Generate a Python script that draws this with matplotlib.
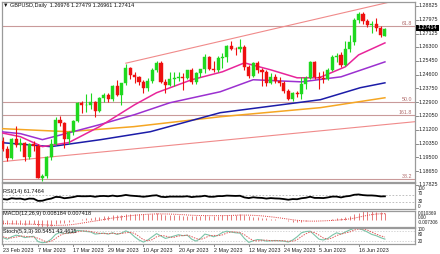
import numpy as np
import pandas as pd
import matplotlib
matplotlib.use("Agg")
import matplotlib.pyplot as plt
from matplotlib.patches import Rectangle

plt.rcParams['font.family'] = ['Liberation Sans', 'DejaVu Sans']

# ---------------- data ----------------
dates = pd.bdate_range('2023-02-23', '2023-06-26')

opens = [1.2050, 1.2000, 1.1945, 1.2065, 1.2025, 1.2040, 1.1950, 1.2035, 1.2020, 1.1825,
         1.1835, 1.1950, 1.2030, 1.2180, 1.2160, 1.2060, 1.2105, 1.2175, 1.2285, 1.2270,
         1.2275, 1.2290, 1.2235, 1.2315, 1.2335, 1.2310, 1.2390, 1.2335, 1.2405, 1.2500,
         1.2460, 1.2445, 1.2415, 1.2375, 1.2420, 1.2490, 1.2530, 1.2415, 1.2395, 1.2435,
         1.2440, 1.2445, 1.2440, 1.2485, 1.2415, 1.2470, 1.2495, 1.2570, 1.2495, 1.2490,
         1.2565, 1.2570, 1.2635, 1.2620, 1.2615, 1.2630, 1.2505, 1.2450, 1.2530, 1.2490,
         1.2475, 1.2410, 1.2445, 1.2420, 1.2410, 1.2360, 1.2310, 1.2345, 1.2340, 1.2400,
         1.2440, 1.2535, 1.2445, 1.2440, 1.2435, 1.2490, 1.2570, 1.2580, 1.2520, 1.2620,
         1.2660, 1.2795, 1.2830, 1.2790, 1.2765, 1.2770, 1.2745, 1.26976]
highs = [1.2075, 1.2020, 1.2070, 1.2145, 1.2070, 1.2045, 1.2040, 1.2050, 1.2035, 1.1850,
         1.1960, 1.2060, 1.2200, 1.2205, 1.2170, 1.2115, 1.2180, 1.2290, 1.2300, 1.2340,
         1.2345, 1.2300, 1.2320, 1.2345, 1.2345, 1.2395, 1.2425, 1.2410, 1.2525, 1.2505,
         1.2475, 1.2450, 1.2425, 1.2440, 1.2500, 1.2545, 1.2545, 1.2430, 1.2475, 1.2475,
         1.2475, 1.2470, 1.2490, 1.2500, 1.2475, 1.2495, 1.2585, 1.2575, 1.2545, 1.2575,
         1.2590, 1.2640, 1.2668, 1.2630, 1.2680, 1.2640, 1.2520, 1.2535, 1.2545, 1.2500,
         1.2485, 1.2470, 1.2465, 1.2445, 1.2420, 1.2370, 1.2355, 1.2360, 1.2445, 1.2450,
         1.2545, 1.2545, 1.2475, 1.2480, 1.2500, 1.2580, 1.2595, 1.2600, 1.2665, 1.2705,
         1.2810, 1.2848, 1.2845, 1.2800, 1.2790, 1.2810, 1.2760, 1.27479]
lows = [1.1990, 1.1925, 1.1940, 1.2015, 1.1990, 1.1925, 1.1940, 1.1990, 1.1820, 1.1803,
        1.1825, 1.1935, 1.2025, 1.2140, 1.2010, 1.2035, 1.2090, 1.2170, 1.2225, 1.2230,
        1.2250, 1.2200, 1.2230, 1.2290, 1.2290, 1.2300, 1.2330, 1.2275, 1.2395, 1.2435,
        1.2405, 1.2395, 1.2345, 1.2360, 1.2410, 1.2475, 1.2405, 1.2345, 1.2390, 1.2390,
        1.2420, 1.2365, 1.2430, 1.2400, 1.2400, 1.2445, 1.2470, 1.2485, 1.2475, 1.2475,
        1.2500, 1.2540, 1.2610, 1.2580, 1.2600, 1.2490, 1.2440, 1.2445, 1.2470, 1.2390,
        1.2390, 1.2400, 1.2410, 1.2390, 1.2345, 1.2305, 1.2300, 1.2320, 1.2310, 1.2370,
        1.2430, 1.2435, 1.2370, 1.2405, 1.2425, 1.2480, 1.2540, 1.2505, 1.2510, 1.2600,
        1.2645, 1.2780, 1.2770, 1.2750, 1.2715, 1.2730, 1.2690, 1.26961]
closes = [1.2000, 1.1945, 1.2065, 1.2025, 1.2040, 1.1950, 1.2035, 1.2020, 1.1825, 1.1835,
          1.1950, 1.2030, 1.2180, 1.2160, 1.2060, 1.2105, 1.2175, 1.2285, 1.2270, 1.2275,
          1.2290, 1.2235, 1.2315, 1.2335, 1.2310, 1.2390, 1.2335, 1.2405, 1.2500, 1.2460,
          1.2445, 1.2415, 1.2375, 1.2420, 1.2490, 1.2530, 1.2415, 1.2395, 1.2435, 1.2440,
          1.2445, 1.2440, 1.2485, 1.2415, 1.2470, 1.2495, 1.2570, 1.2495, 1.2490, 1.2565,
          1.2570, 1.2635, 1.2620, 1.2615, 1.2630, 1.2505, 1.2450, 1.2530, 1.2490, 1.2475,
          1.2410, 1.2445, 1.2420, 1.2410, 1.2360, 1.2310, 1.2345, 1.2340, 1.2400, 1.2440,
          1.2535, 1.2445, 1.2440, 1.2435, 1.2490, 1.2570, 1.2575, 1.2520, 1.2620, 1.2660,
          1.2795, 1.2830, 1.2790, 1.2765, 1.2770, 1.2745, 1.2705, 1.27414]

# moving averages (bar index, price)
ma_magenta_idx = [-0.5, 4, 9, 15, 22, 30, 35, 43, 50, 55, 61, 67, 72, 78, 81, 87]
ma_magenta = [1.2102, 1.2077, 1.2016, 1.2041, 1.2139, 1.2274, 1.2348, 1.2428, 1.2477,
              1.2532, 1.2489, 1.2440, 1.2440, 1.2508, 1.2581, 1.2655]
ma_purple_idx = [-0.5, 4, 9, 16, 22, 30, 38, 49.5, 57, 68, 77, 87]
ma_purple = [1.2108, 1.2096, 1.2059, 1.2108, 1.2151, 1.2213, 1.2286, 1.2354, 1.2428,
             1.2415, 1.2446, 1.2538]
ma_blue_idx = [-0.5, 10.9, 22.3, 33.6, 49.5, 72.3, 81.4, 87]
ma_blue = [1.2041, 1.2016, 1.2059, 1.2108, 1.2225, 1.2305, 1.2379, 1.2409]
ma_orange_idx = [-0.5, 14.8, 29.8, 49.5, 72.3, 87]
ma_orange = [1.2127, 1.2108, 1.2139, 1.2200, 1.2256, 1.2317]

# trend / channel lines (anchor bar index, price)
upper_idx = [28, 54]
upper_px = [1.2530, 1.2693]
lower_idx = [0, 60]
lower_px = [1.1924, 1.2081]

fib_levels = [1.2760, 1.2293, 1.2210, 1.1818]
fib_labels = ['61.8', '50.0', '161.8', '38.2']

price_ticks = [1.28825, 1.27975, 1.27125, 1.26300, 1.25450, 1.24600, 1.23750,
               1.22900, 1.22050, 1.21200, 1.20350, 1.19500, 1.18650, 1.17825]
price_tick_labels = ['1.28825', '1.27975', '1.27125', '1.26300', '1.25450', '1.24600',
                     '1.23750', '1.22900', '1.22050', '1.21200', '1.20350', '1.19500',
                     '1.18650', '1.17825']

rsi = [45, 42, 50, 47, 48, 42, 48, 47, 34, 35, 43, 48, 58, 57, 50, 53, 57, 63, 62, 62,
       63, 59, 63, 64, 62, 66, 62, 65, 70, 66, 64, 62, 59, 62, 66, 68, 59, 57, 60, 60,
       60, 60, 62, 57, 60, 61, 65, 59, 59, 63, 63, 66, 65, 64, 65, 55, 51, 56, 53, 52,
       48, 51, 49, 48, 45, 41, 45, 44, 50, 53, 59, 52, 52, 51, 55, 60, 60, 55, 61, 64,
       71, 73, 69, 67, 67, 65, 61, 61.7464]

macd = [-0.0040, -0.0045, -0.0042, -0.0043, -0.0042, -0.0048, -0.0045, -0.0044, -0.0060, -0.0070,
        -0.0073, -0.0065, -0.0045, -0.0032, -0.0028, -0.0020, -0.0010, 0.0005, 0.0015, 0.0024,
        0.0032, 0.0034, 0.0040, 0.0046, 0.0049, 0.0055, 0.0056, 0.0060, 0.0070, 0.0073,
        0.0074, 0.0073, 0.0069, 0.0069, 0.0073, 0.0079, 0.0072, 0.0064, 0.0061, 0.0058,
        0.0056, 0.0053, 0.0054, 0.0049, 0.0049, 0.0050, 0.0056, 0.0053, 0.0050, 0.0053,
        0.0056, 0.0062, 0.0064, 0.0065, 0.0066, 0.0057, 0.0046, 0.0043, 0.0037, 0.0031,
        0.0022, 0.0018, 0.0012, 0.0007, -0.0001, -0.0011, -0.0015, -0.0018, -0.0015, -0.0010,
        0.0001, 0.0002, 0.0002, 0.0002, 0.0007, 0.0017, 0.0024, 0.0025, 0.0035, 0.0046,
        0.0067, 0.0086, 0.0099, 0.0104, 0.0101, 0.0096, 0.0088, 0.008184]
macd_signal = [-0.0035, -0.0037, -0.0038, -0.0039, -0.0040, -0.0041, -0.0042, -0.0043, -0.0045, -0.0048,
               -0.0051, -0.0054, -0.0055, -0.0054, -0.0053, -0.0050, -0.0045, -0.0038, -0.0030, -0.0022,
               -0.0014, -0.0007, 0.0001, 0.0010, 0.0018, 0.0026, 0.0033, 0.0039, 0.0046, 0.0052,
               0.0057, 0.0061, 0.0065, 0.0068, 0.0070, 0.0072, 0.0072, 0.0071, 0.0070, 0.0068,
               0.0066, 0.0063, 0.0060, 0.0057, 0.0055, 0.0054, 0.0053, 0.0053, 0.0053, 0.0052,
               0.0053, 0.0054, 0.0055, 0.0057, 0.0059, 0.0059, 0.0058, 0.0056, 0.0054, 0.0050,
               0.0045, 0.0040, 0.0034, 0.0028, 0.0021, 0.0014, 0.0007, 0.0001, -0.0004, -0.0007,
               -0.0008, -0.0008, -0.0007, -0.0005, -0.0003, 0.0000, 0.0003, 0.0007, 0.0011, 0.0017,
               0.0025, 0.0035, 0.0046, 0.0056, 0.0064, 0.0070, 0.0073, 0.007418]

stoch_k = [40, 30, 45, 55, 50, 40, 45, 48, 15, 8, 12, 30, 60, 72, 65, 68, 75, 85, 82, 78,
           75, 62, 65, 68, 62, 70, 60, 68, 82, 70, 45, 25, 12, 25, 45, 65, 50, 35, 42, 50,
           58, 52, 55, 30, 18, 35, 62, 55, 45, 55, 72, 80, 75, 70, 68, 35, 10, 20, 28, 25,
           18, 20, 22, 20, 18, 12, 25, 45, 70, 78, 80, 55, 30, 25, 35, 55, 70, 62, 75, 88,
           98, 97, 88, 75, 60, 52, 40, 30.5451]
stoch_d = [45, 38, 38, 43, 50, 48, 45, 44, 36, 24, 12, 17, 34, 54, 66, 68, 69, 76, 81, 82,
           78, 72, 67, 65, 65, 67, 64, 66, 70, 73, 66, 47, 27, 21, 27, 45, 53, 50, 42, 42,
           50, 53, 55, 46, 34, 28, 38, 51, 54, 52, 57, 69, 76, 75, 71, 58, 38, 22, 19, 24,
           24, 21, 20, 21, 20, 17, 18, 27, 47, 64, 76, 71, 55, 37, 30, 38, 53, 62, 69, 75,
           87, 94, 94, 87, 74, 62, 51, 43.4635]

date_tick_labels = ['23 Feb 2023', '7 Mar 2023', '17 Mar 2023', '29 Mar 2023', '10 Apr 2023',
                    '20 Apr 2023', '2 May 2023', '12 May 2023', '24 May 2023', '5 Jun 2023',
                    '16 Jun 2023']

# ---------------- figure ----------------
W, H = 440, 254
fig = plt.figure(figsize=(W / 100, H / 100), dpi=100)
fig.patch.set_facecolor('white')


def ax_px(x0, y0, x1, y1):
    a = fig.add_axes([x0 / W, 1 - y1 / H, (x1 - x0) / W, (y1 - y0) / H])
    a.set_xticks([])
    a.set_yticks([])
    for s in a.spines.values():
        s.set_color('#9a9a9a')
        s.set_linewidth(0.9)
    return a


XL = (-0.2, 93.85)
ax = ax_px(2, 2, 415, 182)
ax_rsi = ax_px(2, 183, 415, 209)
ax_macd = ax_px(2, 211, 415, 227)
ax_st = ax_px(2, 228, 415, 244)
for a in (ax, ax_rsi, ax_macd, ax_st):
    a.set_xlim(*XL)

n = len(closes)
idx = np.arange(n)
o = np.array(opens); h = np.array(highs); l = np.array(lows); c = np.array(closes)

ax.set_ylim(1.1798, 1.2907)

# fib levels
for lv, lb in zip(fib_levels, fib_labels):
    ax.axhline(lv, color='#c99a9a', lw=0.8, zorder=1)
    ax.text(0.993, lv, lb, transform=ax.get_yaxis_transform(), ha='right', va='bottom',
            fontsize=3.8, color='#b06a6a')

# trend lines
su = (upper_px[1] - upper_px[0]) / (upper_idx[1] - upper_idx[0])
xu = np.array([upper_idx[0], XL[1] + 1])
ax.plot(xu, upper_px[0] + su * (xu - upper_idx[0]), color='#f08a8a', lw=0.8, zorder=2)
sl = (lower_px[1] - lower_px[0]) / (lower_idx[1] - lower_idx[0])
xl = np.array([XL[0] - 1, XL[1] + 1])
ax.plot(xl, lower_px[0] + sl * (xl - lower_idx[0]), color='#f08a8a', lw=0.8, zorder=2)

# moving averages
ax.plot(ma_orange_idx, ma_orange, color='#f5a623', lw=1.1, zorder=3)
ax.plot(ma_blue_idx, ma_blue, color='#1c1ca8', lw=1.1, zorder=3)
ax.plot(ma_purple_idx, ma_purple, color='#9b30d0', lw=1.1, zorder=3)
ax.plot(ma_magenta_idx, ma_magenta, color='#e8259a', lw=1.1, zorder=3)

# candles
up = c >= o
cols = np.where(up, '#1fd81f', '#ee1010')
ax.vlines(idx, l, h, colors=cols, lw=0.8, zorder=4)
bottoms = np.minimum(o, c)
heights = np.maximum(np.abs(c - o), 0.0004)
ax.bar(idx, heights, bottom=bottoms, width=0.7, color=cols, edgecolor=cols, lw=0.3, zorder=5)

# price scale
ytr = ax.get_yaxis_transform()
for p, lb in zip(price_ticks, price_tick_labels):
    ax.plot([1.0, 1.0 + 2.5 / 413], [p, p], transform=ytr, color='#777777', lw=0.6, clip_on=False)
    ax.text(1.0 + 4 / 413, p, lb, transform=ytr, fontsize=3.9, va='center', ha='left',
            color='#222222', clip_on=False)

# current price box
fig.patches.append(Rectangle((415.5 / W, 1 - 30.8 / H), 23 / W, 6.2 / H,
                             transform=fig.transFigure, facecolor='black', edgecolor='none',
                             zorder=5))
fig.text(418 / W, 1 - 27.7 / H, '1.27414', fontsize=3.9, color='white', va='center',
         ha='left', zorder=6)

# header
fig.text(3 / W, 1 - 6 / H, '\u25bc GBPUSD,Daily  1.26976 1.27479 1.26961 1.27414',
         fontsize=4.0, color='#111111', va='center', ha='left')

SUBFS = 3.3

# RSI
ax_rsi.set_ylim(-15.2, 142.4)
for lv in (30, 70):
    ax_rsi.axhline(lv, color='#b5b5b5', lw=0.6, ls=(0, (2, 2)))
ax_rsi.plot(idx, rsi, color='black', lw=1.3)
fig.text(3 / W, 1 - 191 / H, 'RSI(14) 61.7464', fontsize=4.0, color='#111111', va='center')
for lb, yy in (('100', 189.0), ('70', 193.6), ('30', 201.6), ('0', 206.0)):
    fig.text(418 / W, 1 - yy / H, lb, fontsize=SUBFS, color='#222222', va='center')

# MACD
ax_macd.set_ylim(-0.0073, 0.0104)
ax_macd.vlines(idx, 0, macd, colors='#e06464', lw=0.6)
ax_macd.plot(idx, macd_signal, color='#e03a3a', lw=0.7, ls=(0, (1, 1.2)))
fig.text(3 / W, 1 - 214 / H, 'MACD(12,26,9) 0.008184 0.007418', fontsize=4.0,
         color='#111111', va='center')
for lb, yy in (('0.010369', 213.2), ('0.00', 217.8), ('-0.007306', 222.4)):
    fig.text(418 / W, 1 - yy / H, lb, fontsize=SUBFS, color='#222222', va='center')

# Stochastic
ax_st.set_ylim(0, 100)
for lv in (20, 80):
    ax_st.axhline(lv, color='#c5c5c5', lw=0.5, ls=(0, (2, 2)))
ax_st.plot(idx, stoch_k, color='#7cc4a8', lw=0.8)
ax_st.plot(idx, stoch_d, color='#e05a5a', lw=0.7, ls=(0, (1.5, 1.2)))
fig.text(3 / W, 1 - 231 / H, 'Stoch(5,3,3) 30.5451 43.4635', fontsize=4.0,
         color='#111111', va='center')
for lb, yy in (('100', 229.6), ('80', 234.0), ('20', 241.8)):
    fig.text(418 / W, 1 - yy / H, lb, fontsize=SUBFS, color='#222222', va='center')

# date axis
date_list = list(dates)
xtr = ax_st.get_xaxis_transform()
for lb in date_tick_labels:
    d = pd.Timestamp(lb)
    i = date_list.index(d)
    ax_st.plot([i, i], [0, -0.15], transform=xtr, color='#777777', lw=0.6, clip_on=False)
    ax_st.text(i, -0.38, lb, transform=xtr, fontsize=3.9, ha='left', va='center',
               color='#222222', clip_on=False)

fig.savefig('out.png', dpi=100, facecolor='white')
